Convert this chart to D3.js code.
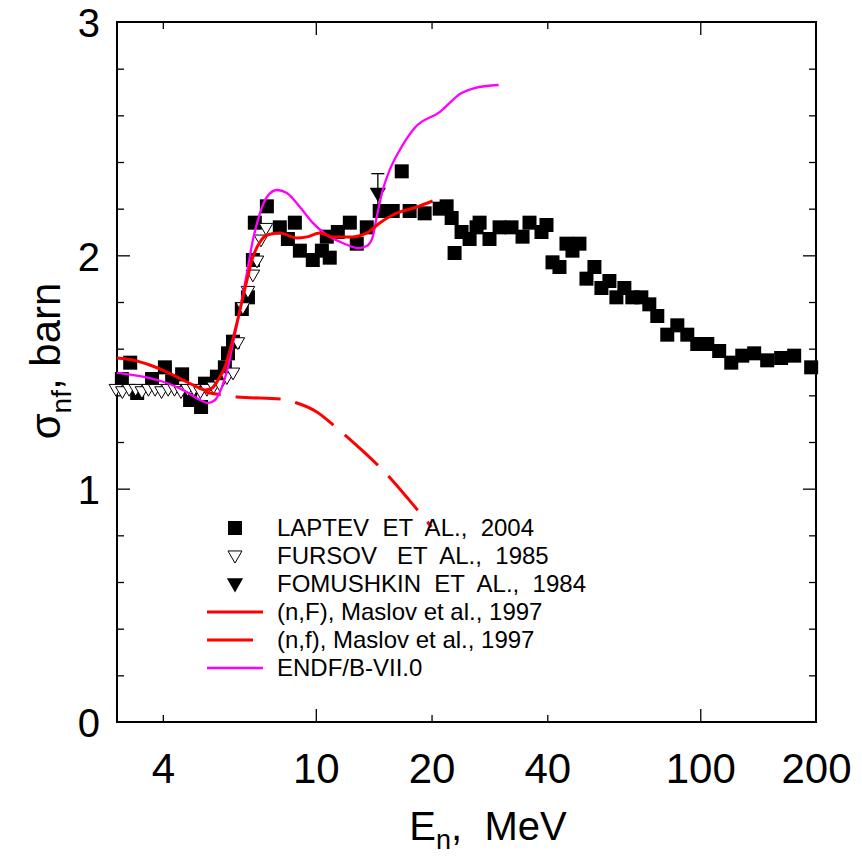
<!DOCTYPE html>
<html>
<head>
<meta charset="utf-8">
<script src="https://cdn.jsdelivr.net/npm/d3@7"></script>
<style>
  body { margin: 0; background: #fff; }
  svg { display: block; }
  text { font-family: "Liberation Sans", Arial, sans-serif; fill: #000; }
</style>
</head>
<body>
<svg id="chart" width="862" height="858"></svg>
<script>
// Laptev et al., 2004 — neutron energy (MeV) and fission cross section (barn)
const laptevE = [3.13, 3.29, 3.43, 3.75, 4.05, 4.23, 4.49, 4.71, 5.03, 5.15, 5.53, 5.80, 5.91, 6.09,
  6.42, 6.66, 6.86, 6.94, 7.46, 8.06, 8.46, 8.82, 9.09, 9.82, 10.37, 10.68, 10.87, 11.41, 12.26,
  12.78, 13.57, 14.66, 15.85, 16.73, 17.54, 19.19, 21.0, 21.89, 22.56, 22.96, 23.94, 25.12, 26.19,
  26.67, 28.30, 30.06, 32.29, 34.49, 35.96, 38.64, 39.81, 41.27, 43.03, 44.87, 46.51, 48.50, 50.58,
  53.05, 55.32, 58.03, 60.51, 63.47, 66.58, 70.26, 73.70, 77.31, 82.07, 87.16, 92.53, 98.22, 104.3,
  112.0, 120.4, 128.6, 138.1, 149.3, 162.3, 175.5, 194.3];
const laptevS = [1.47, 1.54, 1.41, 1.47, 1.52, 1.46, 1.49, 1.38, 1.35, 1.45, 1.48, 1.52, 1.58, 1.63,
  1.77, 1.82, 1.98, 2.14, 2.21, 2.12, 2.07, 2.14, 2.02, 1.98, 2.02, 2.08, 1.99, 2.10, 2.14,
  2.05, 2.12, 2.19, 2.19, 2.36, 2.19, 2.18, 2.20, 2.21, 2.16, 2.01, 2.10, 2.07, 2.12,
  2.14, 2.07, 2.12, 2.12, 2.08, 2.14, 2.10, 2.13, 1.97, 1.95, 2.05, 2.02, 2.05, 1.90,
  1.95, 1.86, 1.89, 1.82, 1.86, 1.82, 1.82, 1.79, 1.74, 1.66, 1.70, 1.66, 1.62, 1.62,
  1.59, 1.54, 1.57, 1.58, 1.55, 1.56, 1.57, 1.52];

// Fursov et al., 1985
const fursovE = [3.02, 3.14, 3.27, 3.40, 3.53, 3.67, 3.82, 3.97, 4.13, 4.29, 4.46, 4.64, 4.82, 5.01,
  5.21, 5.42, 5.63, 5.87, 6.09, 6.27, 6.46, 6.66, 6.86, 7.03, 7.20, 7.42];
const fursovS = [1.43, 1.42, 1.43, 1.43, 1.42, 1.43, 1.43, 1.42, 1.43, 1.43, 1.42, 1.43, 1.43, 1.42,
  1.43, 1.44, 1.45, 1.48, 1.50, 1.63, 1.78, 1.85, 1.92, 1.98, 2.07, 2.12];

// Fomushkin et al., 1984 (one point with uncertainty)
const fomushkinE = [14.5];
const fomushkinS = [2.27];
const fomushkinErr = [0.08];

// (n,F) total fission, Maslov et al., 1997
const maslovTotE = [3.04, 3.35, 3.70, 4.10, 4.51, 4.91, 5.15, 5.37, 5.57, 5.80, 6.05, 6.35, 6.62, 6.86,
  7.16, 7.46, 8.06, 8.93, 9.48, 10.24, 11.07, 12.48, 13.57, 14.66, 15.85, 18.30, 20.13];
const maslovTotS = [1.560, 1.551, 1.530, 1.500, 1.466, 1.436, 1.423, 1.431, 1.466, 1.521, 1.624, 1.766,
  1.894, 1.993, 2.057, 2.087, 2.096, 2.074, 2.079, 2.096, 2.079, 2.079, 2.096, 2.139, 2.173, 2.207, 2.233];

// (n,f) first-chance fission, Maslov et al., 1997
const maslovFirstE = [5.15, 6.23, 8.16, 8.93, 10.06, 11.34, 13.0, 15.1, 17.5, 20.0];
const maslovFirstS = [1.414, 1.393, 1.384, 1.367, 1.329, 1.260, 1.174, 1.071, 0.951, 0.836];

// ENDF/B-VII.0 evaluation
const endfE = [3.04, 3.35, 3.70, 4.10, 4.51, 5.00, 5.24, 5.47, 5.70, 5.91, 6.09, 6.35, 6.62, 6.86,
  7.16, 7.46, 7.92, 8.41, 9.09, 9.82, 10.68, 11.75, 12.86, 13.57, 14.06, 14.40, 14.93, 15.57, 16.53,
  18.07, 21.0, 23.94, 25.88, 29.9];
const endfS = [1.496, 1.487, 1.474, 1.453, 1.423, 1.380, 1.367, 1.380, 1.436, 1.521, 1.624, 1.766, 1.924,
  2.066, 2.181, 2.250, 2.280, 2.267, 2.207, 2.139, 2.087, 2.053, 2.031, 2.040, 2.079, 2.164, 2.280,
  2.366, 2.451, 2.546, 2.614, 2.696, 2.717, 2.730];

// Axis ticks and labels
const xLabelTicks = [4, 10, 20, 40, 100, 200];
const xMajorTicks = [10, 100];
const xMinorTicks = [4, 20, 40];
const yLabelTicks = [0, 1, 2, 3];
const yMajorTicks = [1, 2];
const yMinorTicks = [0.2, 0.4, 0.6, 0.8, 1.2, 1.4, 1.6, 1.8, 2.2, 2.4, 2.6, 2.8];

const legendLabels = ["LAPTEV  ET  AL.,  2004", "FURSOV   ET  AL.,  1985", "FOMUSHKIN  ET  AL.,  1984",
  "(n,F), Maslov et al., 1997", "(n,f), Maslov et al., 1997", "ENDF/B-VII.0"];

const zip = (a, b) => a.map((v, i) => [v, b[i]]);

const svg = d3.select("#chart");
const L = 117, R = 816, T = 22, B = 722;

const x = d3.scaleLog().domain([3.04, 200]).range([L, R]);
const y = d3.scaleLinear().domain([0, 3]).range([B, T]);

const RED = "#ff0000", MAGENTA = "#ff00ff";
const FONT = "Liberation Sans, Arial, sans-serif";

// Tick marks on all four sides, pointing inward
function ticks(axisFn, pos, values, len) {
  svg.append("g")
    .attr("transform", pos)
    .call(axisFn.tickValues(values).tickSize(-len).tickFormat(""))
    .call(g => g.select(".domain").remove())
    .call(g => g.selectAll("line").attr("stroke", "#000").attr("stroke-width", 1.3));
}
ticks(d3.axisBottom(x), `translate(0,${B})`, xMajorTicks, 13);
ticks(d3.axisBottom(x), `translate(0,${B})`, xMinorTicks, 7);
ticks(d3.axisTop(x), `translate(0,${T})`, xMajorTicks, 13);
ticks(d3.axisTop(x), `translate(0,${T})`, xMinorTicks, 7);
ticks(d3.axisLeft(y), `translate(${L},0)`, yMajorTicks, 13);
ticks(d3.axisLeft(y), `translate(${L},0)`, yMinorTicks, 7);
ticks(d3.axisRight(y), `translate(${R},0)`, yMajorTicks, 13);
ticks(d3.axisRight(y), `translate(${R},0)`, yMinorTicks, 7);

// Tick labels
svg.append("g")
  .attr("transform", `translate(0,${B})`)
  .call(d3.axisBottom(x).tickValues(xLabelTicks).tickFormat(d3.format("d")).tickSize(0).tickPadding(31))
  .call(g => g.select(".domain").remove())
  .call(g => g.selectAll("text").attr("font-size", 42).attr("font-family", FONT));

svg.append("g")
  .attr("transform", `translate(${L},2)`)
  .call(d3.axisLeft(y).tickValues(yLabelTicks).tickFormat(d3.format("d")).tickSize(0).tickPadding(17))
  .call(g => g.select(".domain").remove())
  .call(g => g.selectAll("text").attr("font-size", 40).attr("font-family", FONT));

// Plot frame
svg.append("rect")
  .attr("x", L).attr("y", T).attr("width", R - L).attr("height", B - T)
  .attr("fill", "none").attr("stroke", "#000").attr("stroke-width", 2);

// Laptev squares
svg.append("g").selectAll("rect")
  .data(zip(laptevE, laptevS))
  .join("rect")
  .attr("x", d => x(d[0]) - 7).attr("y", d => y(d[1]) - 7)
  .attr("width", 14).attr("height", 14)
  .attr("fill", "#000");

// Fursov open down-triangles
const triOpen = d3.symbol(d3.symbolTriangle, 80);
svg.append("g").selectAll("path")
  .data(zip(fursovE, fursovS))
  .join("path")
  .attr("d", triOpen)
  .attr("transform", d => `translate(${x(d[0])},${y(d[1])}) rotate(180)`)
  .attr("fill", "#fff").attr("stroke", "#000").attr("stroke-width", 1);

// Fomushkin filled down-triangle with error bar
const fom = fomushkinE.map((e, i) => ({ e, s: fomushkinS[i], err: fomushkinErr[i] }));
const fg = svg.append("g");
fg.selectAll("line.bar").data(fom).join("line").attr("class", "bar")
  .attr("x1", d => x(d.e)).attr("x2", d => x(d.e))
  .attr("y1", d => y(d.s + d.err)).attr("y2", d => y(d.s - d.err))
  .attr("stroke", "#000").attr("stroke-width", 1.3);
fg.selectAll("line.cap").data(fom).join("line").attr("class", "cap")
  .attr("x1", d => x(d.e) - 6.5).attr("x2", d => x(d.e) + 6.5)
  .attr("y1", d => y(d.s + d.err)).attr("y2", d => y(d.s + d.err))
  .attr("stroke", "#000").attr("stroke-width", 1.3);
fg.selectAll("path").data(fom).join("path")
  .attr("d", d3.symbol(d3.symbolTriangle, 115))
  .attr("transform", d => `translate(${x(d.e)},${y(d.s)}) rotate(180)`)
  .attr("fill", "#000");

// Evaluated curves
const line = d3.line().x(d => x(d[0])).y(d => y(d[1])).curve(d3.curveMonotoneX);

svg.append("path").datum(zip(maslovFirstE, maslovFirstS))
  .attr("d", line).attr("fill", "none")
  .attr("stroke", RED).attr("stroke-width", 3)
  .attr("stroke-dasharray", "45 15").attr("stroke-dashoffset", 29);

svg.append("path").datum(zip(endfE, endfS))
  .attr("d", line).attr("fill", "none")
  .attr("stroke", MAGENTA).attr("stroke-width", 2.3);

svg.append("path").datum(zip(maslovTotE, maslovTotS))
  .attr("d", line).attr("fill", "none")
  .attr("stroke", RED).attr("stroke-width", 3);

// Legend
const lg = svg.append("g");
const rowY = i => 528 + i * 28;
lg.append("rect").attr("x", 235 - 7).attr("y", rowY(0) - 7).attr("width", 14).attr("height", 14).attr("fill", "#000");
lg.append("path").attr("d", d3.symbol(d3.symbolTriangle, 85))
  .attr("transform", `translate(235,${rowY(1) - 1}) rotate(180)`)
  .attr("fill", "#fff").attr("stroke", "#000").attr("stroke-width", 1);
lg.append("path").attr("d", d3.symbol(d3.symbolTriangle, 115))
  .attr("transform", `translate(235,${rowY(2) - 1}) rotate(180)`)
  .attr("fill", "#000");
lg.append("line").attr("x1", 207).attr("x2", 263).attr("y1", rowY(3)).attr("y2", rowY(3))
  .attr("stroke", RED).attr("stroke-width", 3);
lg.append("line").attr("x1", 207).attr("x2", 253).attr("y1", rowY(4)).attr("y2", rowY(4))
  .attr("stroke", RED).attr("stroke-width", 3);
lg.append("line").attr("x1", 207).attr("x2", 263).attr("y1", rowY(5)).attr("y2", rowY(5))
  .attr("stroke", MAGENTA).attr("stroke-width", 2.3);
lg.selectAll("text").data(legendLabels).join("text")
  .attr("x", 277).attr("y", (d, i) => rowY(i))
  .attr("dy", "0.35em")
  .attr("font-size", 24)
  .style("white-space", "pre")
  .text(d => d);

// Axis titles
const xt = svg.append("text").attr("x", 488).attr("y", 840).attr("text-anchor", "middle")
  .attr("font-size", 40).style("white-space", "pre");
xt.append("tspan").text("E");
xt.append("tspan").attr("font-size", 27).attr("dy", 9).text("n");
xt.append("tspan").attr("dy", -9).text(",  MeV");

const yt = svg.append("text")
  .attr("transform", "translate(60,361) rotate(-90)")
  .attr("text-anchor", "middle").attr("font-size", 42).style("white-space", "pre");
yt.append("tspan").text("σ");
yt.append("tspan").attr("font-size", 28).attr("dy", 11).text("nf");
yt.append("tspan").attr("dy", -11).text(", barn");
</script>
</body>
</html>
